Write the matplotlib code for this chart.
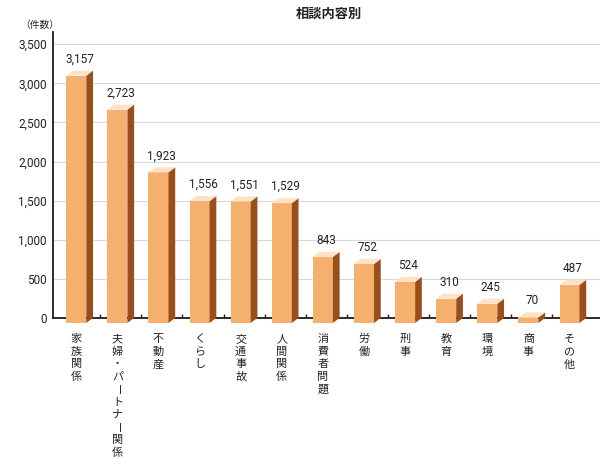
import matplotlib
matplotlib.use("Agg")
import matplotlib.pyplot as plt
from matplotlib.patches import Polygon

plt.rcParams['font.family'] = ['Noto Sans CJK JP', 'DejaVu Sans']

# データ
categories = ["家族関係", "夫婦・パートナー関係", "不動産", "くらし", "交通事故", "人間関係",
              "消費者問題", "労働", "刑事", "教育", "環境", "商事", "その他"]
counts = [3157, 2723, 1923, 1556, 1551, 1529, 843, 752, 524, 310, 245, 70, 487]
yticks = [0, 500, 1000, 1500, 2000, 2500, 3000, 3500]

# 色
c_front = "#F4B06C"
c_side = "#9A4E1C"
c_top = "#FDE3C6"
c_axis = "#231815"

fig = plt.figure(figsize=(6, 4.66), dpi=100)
ax = fig.add_axes([0.0889, 0.317, 1 - 0.0889, 0.931 - 0.317])

ax.set_xlim(-0.64, 12.66)
ax.set_ylim(0, 3653)

# 擬似3Dの棒
w = 0.487   # 前面の幅
dx = 0.163  # 奥行き(横)
dy = 65     # 奥行き(縦)
y0 = -60    # 前面の下端
for i, v in enumerate(counts):
    left = i - (w + dx) / 2
    right = left + w
    ax.add_patch(Polygon([(left, y0), (right, y0), (right, y0 + v), (left, y0 + v)],
                         closed=True, facecolor=c_front, edgecolor="none",
                         zorder=3, clip_on=False))
    ax.add_patch(Polygon([(right, y0), (right + dx, y0 + dy), (right + dx, y0 + v + dy),
                          (right, y0 + v)],
                         closed=True, facecolor=c_side, edgecolor="none",
                         zorder=3, clip_on=False))
    ax.add_patch(Polygon([(left, y0 + v), (right, y0 + v), (right + dx, y0 + v + dy),
                          (left + dx, y0 + v + dy)],
                         closed=True, facecolor=c_top, edgecolor="none",
                         zorder=3, clip_on=False))
    ax.annotate(f"{v:,}", (i, v), xytext=(0, 6), textcoords="offset points",
                ha="center", va="baseline", fontsize=8.5, color="#222222",
                family=["Roboto", "DejaVu Sans"])
    # 縦書きラベル（長音符は縦向きに）
    cx = left + w / 2
    for k, ch in enumerate(categories[i]):
        if ch == "ー":
            ax.annotate(ch, (cx, 0), xytext=(0, -15 - 9.1 * k), textcoords="offset points",
                        ha="center", va="center", fontsize=8, color="#222222",
                        rotation=-90, rotation_mode="anchor", annotation_clip=False)
        else:
            ax.annotate(ch, (cx, 0), xytext=(0, -15 - 9.1 * k), textcoords="offset points",
                        ha="center", va="center", fontsize=8, color="#222222",
                        annotation_clip=False)

# 軸
ax.set_yticks(yticks)
ax.set_yticklabels([f"{t:,}" for t in yticks], family=["Roboto", "DejaVu Sans"])
ax.tick_params(axis="y", length=0, pad=4.8, labelsize=8.5, labelcolor="#222222")
ax.grid(axis="y", color="#d9d9d9", linewidth=0.8, zorder=0)
ax.set_axisbelow(True)

ax.set_xticks([])
ax.set_xticks([i + 0.5 for i in range(len(counts) - 1)], minor=True)
ax.tick_params(axis="x", which="minor", direction="in", length=3, width=1, color=c_axis)

for s in ["top", "right"]:
    ax.spines[s].set_visible(False)
ax.spines["left"].set_color(c_axis)
ax.spines["left"].set_linewidth(1.3)
ax.spines["bottom"].set_color(c_axis)
ax.spines["bottom"].set_linewidth(1.3)

fig.text(0.066, 0.946, "（件数）", fontsize=7, ha="center", va="center", color="#222222")
fig.text(0.548, 0.970, "相談内容別", fontsize=9.5, fontweight="bold", ha="center",
         va="center", color="#222222")

fig.savefig("out.png", dpi=100)
